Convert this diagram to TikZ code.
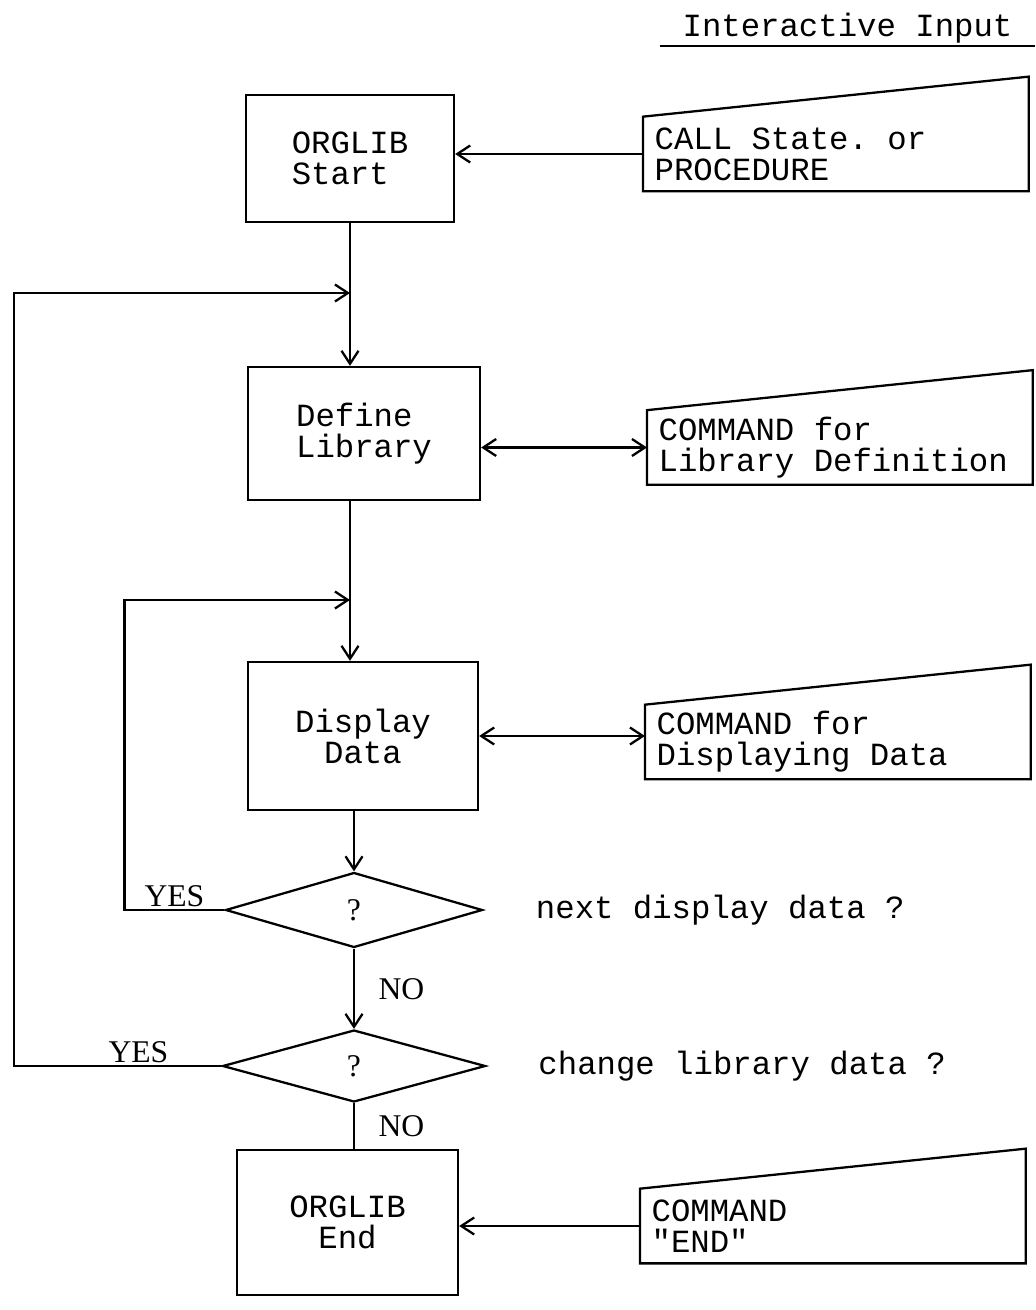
\documentclass[tikz,border=0pt]{standalone}
\usepackage{fontspec}
\setmainfont{Liberation Serif}
\setmonofont{Liberation Mono}
\usetikzlibrary{positioning,shapes.geometric,arrows.meta}

\newcommand{\flowfont}{\fontsize{18.4}{17.6}\selectfont\ttfamily\frenchspacing}
\newcommand{\askfont}{\fontsize{18}{20}\selectfont\rmfamily}

\tikzset{
  flowline/.style={line width=1.3pt},
  flowarrow/.style={flowline,-{Straight Barb[length=2.6mm,width=3.4mm]}},
  dflow/.style={flowline,{Straight Barb[length=2.6mm,width=3.4mm]}-{Straight Barb[length=2.6mm,width=3.4mm]}},
  procbox/.style={draw,flowline,rectangle,font=\flowfont},
  inbox/.style={rectangle,anchor=west,minimum height=1.48cm,text width=7.25cm,inner xsep=0.225cm,align=flush left,font=\flowfont},
  ask/.style={draw,flowline,diamond,inner sep=0pt,font=\askfont},
  note/.style={font=\flowfont,inner sep=0pt},
  yn/.style={font=\askfont}
}

\begin{document}
\begin{tikzpicture}[x=0.02cm,y=-0.02cm]
\useasboundingbox (0,0) rectangle (1035,1310);

% Kopf
\node[note, anchor=base, minimum width=7.5cm, inner ysep=1.3pt] (title) at (847.5,37) {Interactive Input};
\draw[flowline] (title.south west) -- (title.south east);

% Ablauf
\node[procbox, minimum width=4.16cm, minimum height=2.54cm, align=left] (start) at (350,158.5) {ORGLIB\\Start};
\node[procbox, minimum width=4.64cm, minimum height=2.66cm, align=left] (define) at (364,433.5) {Define\\Library};
\node[procbox, minimum width=4.6cm, minimum height=2.96cm, align=center] (disp) at (363,736) {Display\\Data};
\node[ask, minimum width=5.14cm, minimum height=1.5cm] (q1) at (354,910) {?};
\node[ask, minimum width=5.26cm, minimum height=1.44cm] (q2) at (354,1066) {?};
\node[procbox, minimum width=4.42cm, minimum height=2.9cm, align=center] (stop) at (347.5,1222.5) {ORGLIB\\End};

\node[note, right=1.04cm of q1] (t1) {next display data ?};
\node[note, right=1.03cm of q2] (t2) {change library data ?};

% Eingaben
\node[inbox] (in1) at (643,154) {CALL State. or\\PROCEDURE};
\node[inbox] (in2) at (647,447.5) {COMMAND for\\Library Definition};
\node[inbox] (in3) at (645,742) {COMMAND for\\Displaying Data};
\node[inbox] (in4) at (640,1226) {COMMAND\\"END"};

\foreach \n in {in1,in2,in3,in4}
  \draw[flowline] (\n.south west) -- (\n.north west) -- ([yshift=0.8cm]\n.north east) -- (\n.south east) -- cycle;

% Verbindungen
\coordinate (j1) at (350,293);
\coordinate (j2) at (350,600);

\draw[flowarrow] (in1.west) -- (in1.west -| start.east);
\draw[flowarrow] (start.south) -- (start.south |- define.north);
\draw[dflow] (define.east |- in2.west) -- (in2.west);
\draw[flowarrow] (start.south |- define.south) -- (start.south |- disp.north);
\draw[dflow] (disp.east) -- (disp.east -| in3.west);
\draw[flowarrow] (q1.north |- disp.south) -- (q1.north);
\draw[flowarrow] (q1.south) -- node[yn, right=0.35cm] {NO} (q2.north);
\draw[flowline] (q2.south) -- node[yn, right=0.35cm] {NO} (q2.south |- stop.north);
\draw[flowarrow] (in4.west) -- (in4.west -| stop.east);

\draw[flowarrow] (q1.west) -- node[yn, above, inner sep=1pt] {YES} ++(-100,0) |- (j2);
\draw[flowarrow] (q2.west) -- node[yn, above, inner sep=1pt, pos=0.4] {YES} ++(-207.5,0) |- (j1);
\end{tikzpicture}
\end{document}
